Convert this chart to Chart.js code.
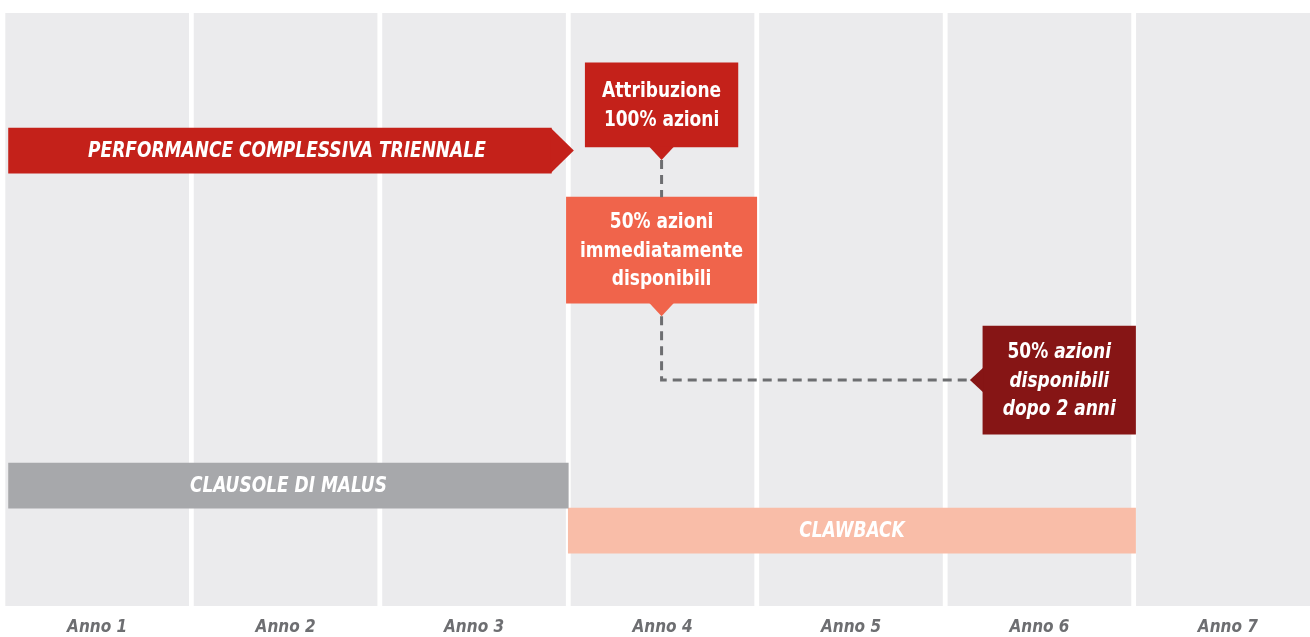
<!DOCTYPE html>
<html>
<head>
<meta charset="utf-8">
<style>
  html, body { margin: 0; padding: 0; background: #ffffff; }
  #wrap { width: 1310px; height: 637px; position: relative; }
</style>
<script src="https://cdn.jsdelivr.net/npm/chart.js@4.4.1/dist/chart.umd.min.js"></script>
</head>
<body>
<div id="wrap"><canvas id="c" width="1310" height="637"></canvas></div>
<script>
// ---------- DATA ----------
const years = ['Anno 1', 'Anno 2', 'Anno 3', 'Anno 4', 'Anno 5', 'Anno 6', 'Anno 7'];
const yearCenters = [0.5, 1.5, 2.5, 3.5, 4.5, 5.5, 6.5];

// timeline phases (x in years, y = row position on 0-100 vertical track)
const phaseNames  = ['PERFORMANCE COMPLESSIVA TRIENNALE', 'CLAUSOLE DI MALUS', 'CLAWBACK'];
const phaseStart  = [0.03, 0.03, 3.00];
const phaseEnd    = [2.91, 3.00, 6.01];
const phaseRow    = [23.2, 79.7, 87.3];

// call-out boxes
const boxNames  = ['Attribuzione 100% azioni', '50% azioni immediatamente disponibili', '50% azioni disponibili dopo 2 anni'];
const boxStart  = [3.09, 2.99, 5.20];
const boxEnd    = [3.90, 4.00, 6.01];
const boxRow    = [15.5, 40.0, 61.9];

// ---------- STYLE ----------
const FONT = "'DejaVu Sans Condensed', 'DejaVu Sans', sans-serif";
const SQUEEZE = 0.86;
const LABEL_SIZE = 22;
const COL_BG = '#EBEBED';
const phaseColors = ['#C4211A', '#A7A8AB', '#F9BDA8'];
const phaseThick  = [45, 45, 45];
const boxColors   = ['#C4211A', '#F0644B', '#861515'];
const boxThick    = [84, 106, 108];
const boxLines = [
  [[['Attribuzione', false]], [['100% azioni', false]]],
  [[['50% azioni', false]], [['immediatamente', false]], [['disponibili', false]]],
  [[['50% ', false], ['azioni', true]], [['disponibili', true]], [['dopo 2 anni', true]]]
];

const datasets = [];
phaseNames.forEach((n, i) => {
  datasets.push({
    label: n, indexAxis: 'y', order: 2,
    data: [{ x: [phaseStart[i], phaseEnd[i]], y: phaseRow[i] }],
    backgroundColor: phaseColors[i], barThickness: phaseThick[i],
    grouped: false, borderWidth: 0
  });
});
boxNames.forEach((n, i) => {
  datasets.push({
    label: n, indexAxis: 'y', order: 1,
    data: [{ x: [boxStart[i], boxEnd[i]], y: boxRow[i] }],
    backgroundColor: boxColors[i], barThickness: boxThick[i],
    grouped: false, borderWidth: 0
  });
});
datasets.push({
  label: 'anni', indexAxis: 'x', order: 10,
  data: yearCenters.map(c => ({ x: c, y: [0, 100] })),
  backgroundColor: COL_BG, barThickness: 183, grouped: false, borderWidth: 0
});

function el(chart, di) { return chart.getDatasetMeta(di).data[0]; }

function setFont(ctx, italic, size) {
  ctx.font = (italic ? 'italic ' : '') + 'bold ' + size + 'px ' + FONT;
}

function drawRich(ctx, segs, cx, cy, size) {
  let total = 0;
  const widths = segs.map(([t, it]) => {
    setFont(ctx, it, size);
    const w = ctx.measureText(t).width; total += w; return w;
  });
  ctx.save();
  ctx.translate(cx, cy);
  ctx.scale(SQUEEZE, 1);
  let x = -total / 2;
  segs.forEach(([t, it], k) => {
    setFont(ctx, it, size);
    ctx.textAlign = 'left';
    ctx.fillText(t, x, 0);
    x += widths[k];
  });
  ctx.restore();
}

const overlay = {
  id: 'overlay',
  afterDatasetsDraw(chart) {
    const ctx = chart.ctx;
    ctx.save();
    // performance arrow head
    const p = el(chart, 0);
    const ph = p.height / 2;
    ctx.fillStyle = phaseColors[0];
    ctx.beginPath();
    ctx.moveTo(p.x - 0.5, p.y - ph);
    ctx.lineTo(p.x + ph, p.y);
    ctx.lineTo(p.x - 0.5, p.y + ph);
    ctx.closePath(); ctx.fill();

    const b0 = el(chart, 3), b1 = el(chart, 4), b2 = el(chart, 5);
    const cx0 = (b0.x + b0.base) / 2;
    const cx1 = (b1.x + b1.base) / 2;
    const pw = 12.5, pl = 13;
    // dashed connectors
    ctx.strokeStyle = '#6D6E71';
    ctx.lineWidth = 3;
    ctx.setLineDash([9, 6]);
    ctx.beginPath();
    ctx.moveTo(cx0, b0.y + b0.height / 2 + pl);
    ctx.lineTo(cx0, b1.y - b1.height / 2);
    ctx.stroke();
    ctx.beginPath();
    ctx.moveTo(cx1, b1.y + b1.height / 2 + pl);
    ctx.lineTo(cx1, b2.y);
    ctx.lineTo(b2.base - pl, b2.y);
    ctx.stroke();
    ctx.setLineDash([]);
    // pointers
    ctx.fillStyle = boxColors[0];
    ctx.beginPath();
    ctx.moveTo(cx0 - pw, b0.y + b0.height / 2 - 0.5);
    ctx.lineTo(cx0, b0.y + b0.height / 2 + pl);
    ctx.lineTo(cx0 + pw, b0.y + b0.height / 2 - 0.5);
    ctx.closePath(); ctx.fill();
    ctx.fillStyle = boxColors[1];
    ctx.beginPath();
    ctx.moveTo(cx1 - pw, b1.y + b1.height / 2 - 0.5);
    ctx.lineTo(cx1, b1.y + b1.height / 2 + pl);
    ctx.lineTo(cx1 + pw, b1.y + b1.height / 2 - 0.5);
    ctx.closePath(); ctx.fill();
    ctx.fillStyle = boxColors[2];
    ctx.beginPath();
    ctx.moveTo(b2.base + 0.5, b2.y - pw);
    ctx.lineTo(b2.base - pl, b2.y);
    ctx.lineTo(b2.base + 0.5, b2.y + pw);
    ctx.closePath(); ctx.fill();

    // phase labels
    ctx.fillStyle = '#FFFFFF';
    ctx.textBaseline = 'middle';
    phaseNames.forEach((n, i) => {
      const e = el(chart, i);
      const cx = (e.x + e.base) / 2 + (i === 0 ? 7 : 0);
      drawRich(ctx, [[n, true]], cx, e.y + 1, LABEL_SIZE);
    });
    // box labels
    boxLines.forEach((lines, i) => {
      const e = el(chart, 3 + i);
      const cx = (e.x + e.base) / 2;
      const lh = 28.5;
      const y0 = e.y - (lines.length - 1) * lh / 2;
      lines.forEach((segs, k) => drawRich(ctx, segs, cx, y0 + k * lh + 1, LABEL_SIZE));
    });
    ctx.restore();
  }
};

new Chart(document.getElementById('c'), {
  type: 'bar',
  data: { datasets },
  options: {
    indexAxis: 'y',
    responsive: false,
    animation: false,
    devicePixelRatio: 1,
    layout: { padding: { top: 13, left: 0, right: 0, bottom: 0 } },
    plugins: { legend: { display: false }, tooltip: { enabled: false } },
    scales: {
      x: {
        type: 'linear', min: -0.0154, max: 6.9356, offset: false,
        grid: { display: false, drawTicks: false, offset: false },
        border: { display: false },
        afterBuildTicks: (s) => { s.ticks = yearCenters.map(v => ({ value: v })); },
        afterFit: (s) => { s.height = 31; },
        ticks: {
          autoSkip: false, maxRotation: 0, padding: 11,
          color: '#6D6E71',
          font: { family: FONT, size: 17, weight: 'bold', style: 'italic', lineHeight: 1.2 },
          callback: (v) => years[yearCenters.indexOf(v)]
        }
      },
      y: {
        type: 'linear', min: 0, max: 100, reverse: true, display: false, offset: false,
        grid: { offset: false }
      }
    }
  },
  plugins: [overlay]
});
</script>
</body>
</html>
